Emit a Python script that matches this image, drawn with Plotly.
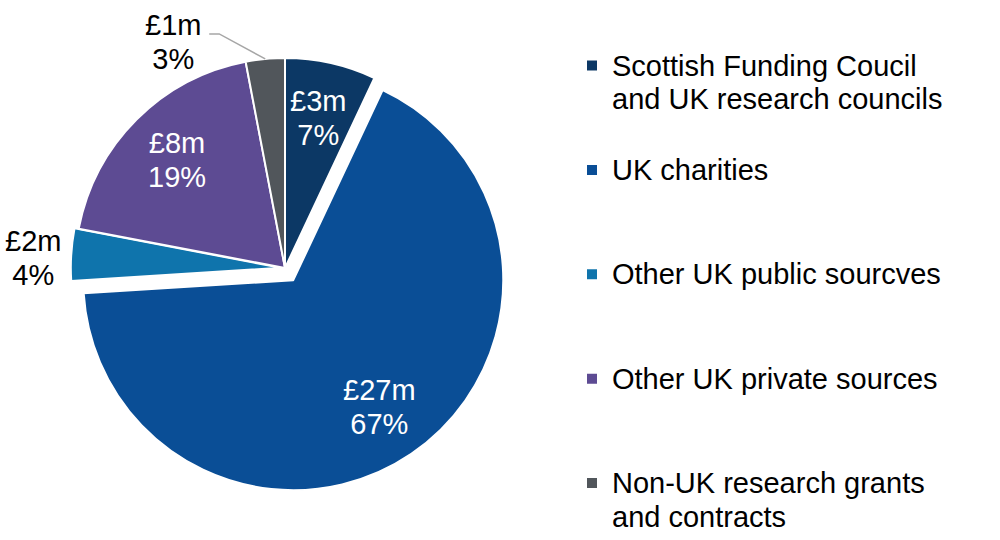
import math
import plotly.graph_objects as go

categories = [
    "Scottish Funding Coucil<br>and UK research councils",
    "UK charities",
    "Other UK public sourcves",
    "Other UK private sources",
    "Non-UK research grants<br>and contracts",
]
amounts = ["£3m", "£27m", "£2m", "£8m", "£1m"]
percents = [7, 67, 4, 19, 3]
colors = ["#0c3865", "#0a4e96", "#0f74ac", "#5d4b93", "#51565b"]
pulls = [0, 0.07, 0.02, 0, 0]
label_inside = [True, True, False, True, False]

BIG = 29
BASE = 26
FONT = "Liberation Sans, Arial, sans-serif"
W, H = 1000, 540

# pie geometry (pixels)
DOM_X = [0.055, 0.515]
DOM_Y = [0.0876, 0.9198]
box = min((DOM_X[1] - DOM_X[0]) * W, (DOM_Y[1] - DOM_Y[0]) * H)
R = box / (2 * (1 + max(pulls)))
CX = (DOM_X[0] + DOM_X[1]) / 2 * W
CY = (1 - (DOM_Y[0] + DOM_Y[1]) / 2) * H


def big(s):
    return f"<span style='font-size:{BIG}px'>{s}</span>"


legend_names = []
for i, c in enumerate(categories):
    lines = c.split("<br>")
    pad = 3 - len(lines) if i < len(categories) - 1 else 0
    legend_names.append("<br>".join(big(l) for l in lines) + "<br>\u00a0" * pad)

fig = go.Figure(
    go.Pie(
        labels=legend_names,
        values=percents,
        textinfo="none",
        marker=dict(colors=colors, line=dict(color="white", width=2)),
        pull=pulls,
        sort=False,
        direction="clockwise",
        rotation=0,
        domain=dict(x=DOM_X, y=DOM_Y),
        hoverinfo="skip",
    )
)


def to_paper(px, py):
    return px / W, 1 - py / H


total = sum(percents)
cum = 0
annotations = []
shapes = []
for amt, pct, pull, inside in zip(amounts, percents, pulls, label_inside):
    mid = (cum + pct / 2) / total * 2 * math.pi
    cum += pct
    sx, sy = math.sin(mid), -math.cos(mid)
    ox, oy = CX + pull * R * sx, CY + pull * R * sy
    text = big(amt) + "<br>" + big(f"{pct}%")
    if inside:
        k = 0.73
        x, y = to_paper(ox + k * R * sx, oy + k * R * sy)
        annotations.append(dict(x=x, y=y, xref="paper", yref="paper", text=text,
                                showarrow=False, xanchor="center", yanchor="middle",
                                font=dict(size=BASE, color="white", family=FONT)))
    elif pct >= 4:
        x, y = to_paper(ox + 1.04 * R * sx, oy + 1.04 * R * sy + 4)
        annotations.append(dict(x=x, y=y, xref="paper", yref="paper", text=text,
                                showarrow=False, xanchor="right", yanchor="middle",
                                font=dict(size=BASE, color="black", family=FONT)))
    else:
        # label with a leader line, up and to the left of the slice
        ex, ey = ox + R * sx, oy + R * sy
        elbow_x, elbow_y = ex - 46, ey - 25
        end_x = elbow_x - 10
        lx, ly = to_paper(end_x - 6, elbow_y + 8)
        annotations.append(dict(x=lx, y=ly, xref="paper", yref="paper", text=text,
                                showarrow=False, xanchor="right", yanchor="middle",
                                font=dict(size=BASE, color="black", family=FONT)))
        p_e = to_paper(ex, ey)
        p_b = to_paper(elbow_x, elbow_y)
        p_n = to_paper(end_x, elbow_y)
        shapes.append(dict(type="path", xref="paper", yref="paper",
                           path=f"M{p_n[0]},{p_n[1]} L{p_b[0]},{p_b[1]} L{p_e[0]},{p_e[1]}",
                           line=dict(color="#a6a6a6", width=1.5)))

fig.update_layout(
    width=W,
    height=H,
    margin=dict(l=0, r=0, t=0, b=0, autoexpand=False),
    paper_bgcolor="white",
    plot_bgcolor="white",
    font=dict(family=FONT, color="black"),
    annotations=annotations,
    shapes=shapes,
    legend=dict(
        x=0.572,
        y=0.922,
        xanchor="left",
        yanchor="top",
        valign="top",
        bgcolor="rgba(0,0,0,0)",
        font=dict(size=BASE, color="black", family=FONT),
        itemclick=False,
        itemdoubleclick=False,
    ),
    showlegend=True,
)

fig.write_html(
    "out.html",
    config={"displayModeBar": False},
    post_script="document.body.style.margin='0';document.body.style.overflow='hidden';",
)
